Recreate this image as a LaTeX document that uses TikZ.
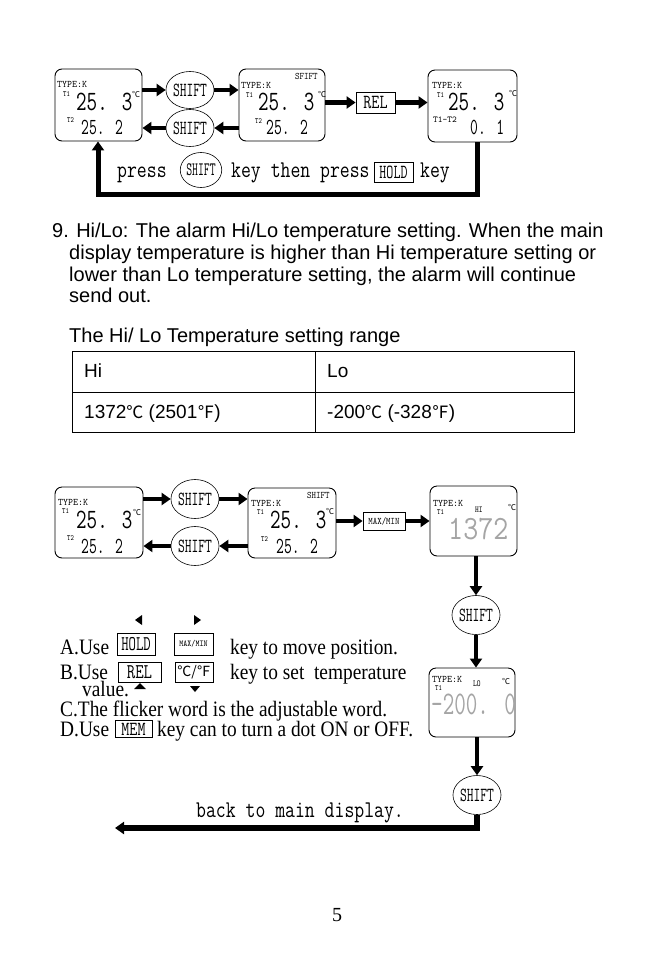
\documentclass[tikz,border=0pt]{standalone}
\usepackage{fontspec}
\setmainfont{Liberation Sans}
\newfontfamily\timesn[FakeStretch=0.88]{Liberation Serif}
\newfontfamily\timesf{Liberation Serif}
\newfontfamily\cjkf{Noto Sans CJK SC}
\usepackage{graphicx}
\usetikzlibrary{arrows.meta,shapes.geometric}
\definecolor{lcdgray}{RGB}{165,165,165}
\newcommand\dsp[3]{\scalebox{#1}[1]{\fontsize{#2}{#2}\selectfont\ttfamily #3}}
\newcommand\degc[1]{{\cjkf\fontsize{#1}{#1}\selectfont ℃}}
\newcommand\para{\fontsize{20}{20}\selectfont}
\newcommand\tbl{\fontsize{19}{19}\selectfont}
\newcommand\tms{\timesn\fontsize{22}{22}\selectfont}
\newcommand\shiftlbl{\dsp{0.66}{20}{SHIFT}}
\begin{document}
\begin{tikzpicture}[x=1pt,y=-1pt,
  dispbox/.style={draw, line width=0.9pt, rounded corners=7pt, inner sep=0pt},
  keybox/.style={draw, line width=0.8pt, inner sep=0pt},
  shiftc/.style={draw, ellipse, line width=0.6pt, minimum width=42pt, minimum height=39pt, inner sep=0pt},
  fat/.style={line width=4.5pt, -{Triangle[length=9pt,width=12pt]}},
  tl/.style={inner sep=0pt, anchor=base west},
  tc/.style={inner sep=0pt, anchor=center},
]
\useasboundingbox (0,0) rectangle (672,954);

% ---------------- top diagram ----------------
\node[dispbox, minimum width=87pt, minimum height=72pt] (b1) at (98.5,105) {};
\node[dispbox, minimum width=86pt, minimum height=72pt] (b2) at (282,105) {};
\node[dispbox, minimum width=89pt, minimum height=72pt] (b3) at (472.5,106) {};
\node[shiftc, minimum width=40pt, minimum height=37pt] (s1) at (190,90) {\shiftlbl};
\node[shiftc, minimum width=40pt, minimum height=37pt] (s2) at (190,128) {\shiftlbl};
\node[keybox, minimum width=39pt, minimum height=21pt] (rel) at (375.5,102.5) {\dsp{0.78}{20}{REL}};

\draw[fat] (b1.east |- s1) -- (s1);
\draw[fat] (s1) -- (b2.west |- s1);
\draw[fat] (b2.west |- s2) -- (s2);
\draw[fat] (s2) -- (b1.east |- s2);
\draw[fat] (b2.east |- rel) -- (rel);
\draw[fat] (rel) -- (b3.west |- rel);
\coordinate (L1) at (477,194);
\coordinate (L2) at (98,194);
\draw[fat, line width=5pt] (b3.south -| L1) -- (L1) -- (L2) -- (b1.south -| L2);

% box 1 contents
\node[tl] (b1t) at (57,87) {\dsp{0.95}{10}{TYPE:K}};
\node[tl] (b1a) at (63,96) {\dsp{0.8}{8}{T1}};
\node[tl] (b1v) at (76,110) {\dsp{0.73}{28}{25. 3}};
\node[tl] (b1c) at (132,97) {\degc{8}};
\node[tl] (b1b) at (67,122) {\dsp{0.8}{8}{T2}};
\node[tl] (b1w) at (81,134) {\dsp{0.66}{23}{25. 2}};
% box 2 contents
\node[tl] (b2s) at (295,79) {\dsp{0.85}{10}{SFIFT}};
\node[tl] (b2t) at (241,88) {\dsp{0.95}{10}{TYPE:K}};
\node[tl] (b2a) at (246,97) {\dsp{0.8}{8}{T1}};
\node[tl] (b2v) at (258,110) {\dsp{0.73}{28}{25. 3}};
\node[tl] (b2c) at (318,97) {\degc{8}};
\node[tl] (b2b) at (255,123) {\dsp{0.8}{8}{T2}};
\node[tl] (b2w) at (266,134) {\dsp{0.66}{23}{25. 2}};
% box 3 contents
\node[tl] (b3t) at (432,88) {\dsp{0.95}{10}{TYPE:K}};
\node[tl] (b3a) at (437,97) {\dsp{0.8}{8}{T1}};
\node[tl] (b3v) at (448,110) {\dsp{0.73}{28}{25. 3}};
\node[tl] (b3c) at (509,96) {\degc{8}};
\node[tl] (b3b) at (433,122) {\dsp{1}{9}{T1-T2}};
\node[tl] (b3w) at (470,134) {\dsp{0.66}{23}{0. 1}};

% press line
\node[tl] (pr1) at (117,177) {\dsp{0.8}{24}{press}};
\node[shiftc, minimum width=37pt, minimum height=35pt] (ps) at (201,170) {\dsp{0.6}{19}{SHIFT}};
\node[tl] (pr2) at (231,177) {\dsp{0.8}{24}{key then press}};
\node[keybox, minimum width=39pt, minimum height=20pt] (ph) at (393.5,172) {\dsp{0.68}{20}{HOLD}};
\node[tl] (pr3) at (420,177) {\dsp{0.8}{24}{key}};

% ---------------- paragraph ----------------
\node[tl] (p1) at (52,237) {\para 9. Hi/Lo: The alarm Hi/Lo temperature setting. When the main};
\node[tl] (p2) at (69,259) {\para display temperature is higher than Hi temperature setting or};
\node[tl] (p3) at (69,281) {\para lower than Lo temperature setting, the alarm will continue};
\node[tl] (p4) at (69,302) {\para send out.};
\node[tl] (p5) at (69,342) {\para The Hi/ Lo Temperature setting range};

% ---------------- table ----------------
\draw[line width=0.8pt] (72,351) rectangle (574,432);
\draw[line width=0.8pt] (315,351) -- (315,432);
\draw[line width=0.8pt] (72,392) -- (574,392);
\node[tl] (th1) at (84,377) {\tbl Hi};
\node[tl] (th2) at (327,377) {\tbl Lo};
\node[tl] (td1) at (84,418) {\tbl 1372{\cjkf\fontsize{17}{17}\selectfont ℃} (2501{\cjkf\fontsize{17}{17}\selectfont ℉})};
\node[tl] (td2) at (327,418) {\tbl -200{\cjkf\fontsize{17}{17}\selectfont ℃} (-328{\cjkf\fontsize{17}{17}\selectfont ℉})};

% ---------------- bottom diagram ----------------
\node[dispbox, minimum width=88pt, minimum height=71pt] (ba) at (99,522.5) {};
\node[shiftc] (s3) at (195,499) {\shiftlbl};
\node[shiftc] (s4) at (195,546) {\shiftlbl};
\node[dispbox, minimum width=88pt, minimum height=70pt] (bb) at (292,523) {};
\node[keybox, minimum width=42pt, minimum height=18pt] (mm) at (384,521) {\dsp{0.85}{10}{MAX/MIN}};
\node[dispbox, minimum width=87pt, minimum height=70pt] (bc) at (473.5,521) {};
\node[shiftc] (s5) at (476,615) {\shiftlbl};
\node[dispbox, minimum width=86pt, minimum height=69pt] (bd) at (472,702.5) {};
\node[shiftc] (s6) at (477,795) {\shiftlbl};

\draw[fat] (ba.east |- s3) -- (s3);
\draw[fat] (s3) -- (bb.west |- s3);
\draw[fat] (bb.west |- s4) -- (s4);
\draw[fat] (s4) -- (ba.east |- s4);
\draw[fat] (bb.east |- mm) -- (mm);
\draw[fat] (mm) -- (bc.west |- mm);
\draw[fat] (bc.south -| s5) -- (s5);
\draw[fat] (s5) -- (bd.north -| s5);
\draw[fat] (bd.south -| s6) -- (s6);
\coordinate (e1) at (477,828);
\coordinate (e2) at (115,828);
\draw[fat, line width=5.5pt] (s6) -- (e1) -- (e2);
\node[tl] (back) at (196,817) {\dsp{0.8}{24}{back to main display.}};

% box A
\node[tl] (bat) at (58,505) {\dsp{0.95}{10}{TYPE:K}};
\node[tl] (baa) at (62,513) {\dsp{0.8}{8}{T1}};
\node[tl] (bav) at (76,528) {\dsp{0.73}{28}{25. 3}};
\node[tl] (bac) at (133,515) {\degc{8}};
\node[tl] (bab) at (67,540) {\dsp{0.8}{8}{T2}};
\node[tl] (baw) at (81,553) {\dsp{0.66}{23}{25. 2}};
% box B
\node[tl] (bbs) at (307,498) {\dsp{0.85}{10}{SHIFT}};
\node[tl] (bbt) at (251,506) {\dsp{0.95}{10}{TYPE:K}};
\node[tl] (bba) at (257,514) {\dsp{0.8}{8}{T1}};
\node[tl] (bbv) at (270,528) {\dsp{0.73}{28}{25. 3}};
\node[tl] (bbc) at (326,514) {\degc{8}};
\node[tl] (bbb) at (261,541) {\dsp{0.8}{8}{T2}};
\node[tl] (bbw) at (276,553) {\dsp{0.66}{23}{25. 2}};
% box C
\node[tl] (bct) at (433,506) {\dsp{0.95}{10}{TYPE:K}};
\node[tl] (bca) at (437,514) {\dsp{0.8}{8}{T1}};
\node[tl] (bch) at (475,512) {\dsp{0.8}{9}{HI}};
\node[tl] (bcc) at (508,510) {\degc{8}};
\node[tl, text=lcdgray] (bcv) at (448,539) {\dsp{0.86}{34}{1372}};
% box D
\node[tl] (bdt) at (432,682) {\dsp{0.95}{10}{TYPE:K}};
\node[tl] (bda) at (435,690) {\dsp{0.8}{8}{T1}};
\node[tl] (bdh) at (473,686) {\dsp{0.8}{9}{LO}};
\node[tl] (bdc) at (502,684) {\degc{8}};
\node[tl, text=lcdgray] (bdv) at (431,714) {\dsp{0.68}{33}{–200. 0}};

% instructions
\fill (142,615) -- (135,620) -- (142,625) -- cycle;
\fill (194,615) -- (201,620) -- (194,625) -- cycle;
\fill (134,689) -- (140,683) -- (146,689) -- cycle;
\fill (190,686) -- (200,686) -- (195,692) -- cycle;
\node[tl] (ia) at (60,654) {\tms A.Use};
\node[keybox, minimum width=38pt, minimum height=22pt] (khold) at (136,644) {\dsp{0.68}{21}{HOLD}};
\node[keybox, minimum width=39pt, minimum height=22pt] (kmm) at (193.5,644) {\dsp{0.85}{9}{MAX/MIN}};
\node[tl] (ia2) at (230,654) {\tms key to move position.};
\node[tl] (ib) at (60,679) {\tms B.Use};
\node[keybox, minimum width=43pt, minimum height=20pt] (krel) at (139.5,672) {\dsp{0.78}{21}{REL}};
\node[keybox, minimum width=38pt, minimum height=20pt] (kcf) at (194,672) {\cjkf\fontsize{14}{14}\selectfont ℃/℉};
\node[tl] (ib2) at (230,679) {\tms key to set\ \ temperature};
\node[tl] (ib3) at (82,696) {\tms value.};
\node[tl] (ic) at (60,716) {\tms C.The flicker word is the adjustable word.};
\node[tl] (id) at (60,736) {\tms D.Use};
\node[keybox, minimum width=37pt, minimum height=17pt] (kmem) at (133.5,729) {\dsp{0.78}{20}{MEM}};
\node[tl] (id2) at (157,736) {\tms key can to turn a dot ON or OFF.};

\node[tc] (pg) at (337,915) {\timesf\fontsize{20}{20}\selectfont 5};
\end{tikzpicture}
\end{document}
